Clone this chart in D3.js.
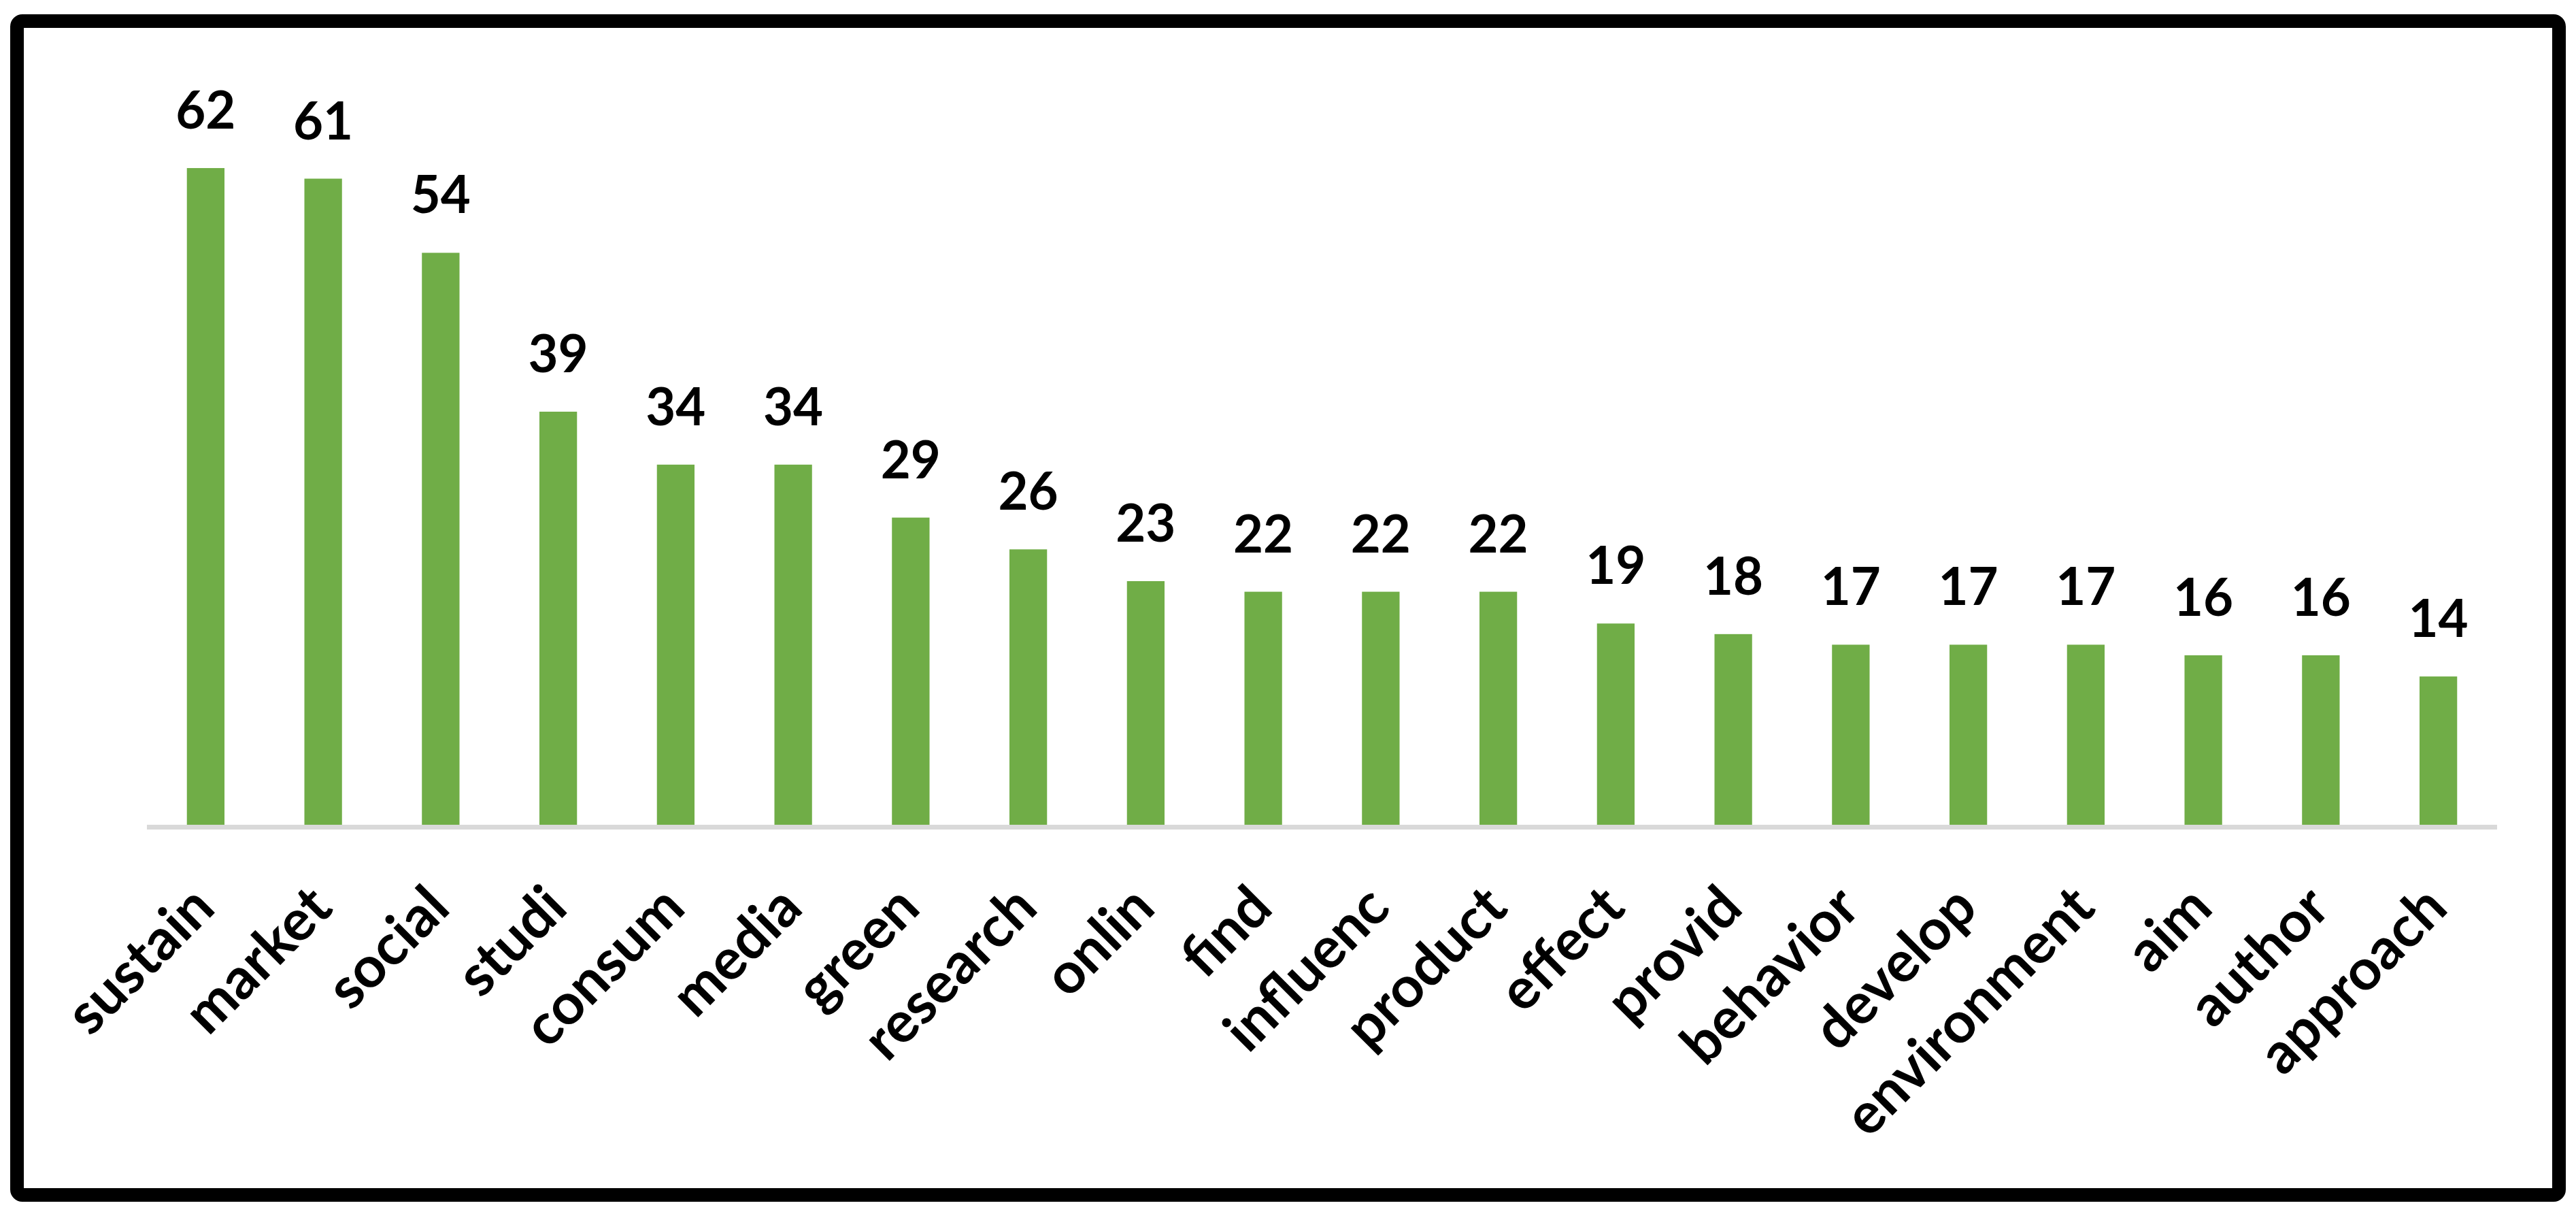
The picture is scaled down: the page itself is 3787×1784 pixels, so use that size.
<!DOCTYPE html>
<html>
<head>
<meta charset="utf-8">
<script src="https://cdn.jsdelivr.net/npm/d3@7"></script>
<style>
  html, body { margin: 0; padding: 0; background: #ffffff; }
  svg { display: block; }
</style>
</head>
<body>
<svg id="chart" width="3787" height="1784"></svg>
<script>
const categories = ["sustain", "market", "social", "studi", "consum", "media", "green", "research", "onlin", "find",
  "influenc", "product", "effect", "provid", "behavior", "develop", "environment", "aim", "author", "approach"];
const values = [62, 61, 54, 39, 34, 34, 29, 26, 23, 22, 22, 22, 19, 18, 17, 17, 17, 16, 16, 14];
const yDomain = [0, 70];

const data = categories.map((c, i) => ({ cat: c, val: values[i] }));

const svg = d3.select("#chart");
const W = 3787, H = 1784;
const FONT = "Lato, 'Open Sans', 'Liberation Sans', sans-serif";

svg.append("rect").attr("x", 0).attr("y", 0).attr("width", W).attr("height", H).attr("fill", "#fff");

const x = d3.scaleBand().domain(categories).range([216, 3671]).paddingInner(0.68).paddingOuter(0.34);
const y = d3.scaleLinear().domain(yDomain).range([1212, 1212 - 70 * 15.565]);

// bars
svg.append("g").selectAll("rect").data(data).join("rect")
  .attr("x", d => x(d.cat))
  .attr("y", d => y(d.val))
  .attr("width", x.bandwidth())
  .attr("height", d => y(0) - y(d.val))
  .attr("fill", "#70ad47");

// baseline
svg.append("line")
  .attr("x1", x.range()[0]).attr("x2", x.range()[1])
  .attr("y1", y(0) + 3.5).attr("y2", y(0) + 3.5)
  .attr("stroke", "#d9d9d9").attr("stroke-width", 7);

// value labels
svg.append("g").selectAll("text").data(data).join("text")
  .attr("x", d => x(d.cat) + x.bandwidth() / 2)
  .attr("y", d => y(d.val) - 58)
  .attr("text-anchor", "middle")
  .attr("font-family", FONT)
  .attr("font-weight", "bold")
  .attr("font-size", 76)
  .attr("fill", "#000")
  .text(d => d.val);

// category labels (rotated)
const xAxis = d3.axisBottom(x).tickSize(0).tickPadding(0);
const gx = svg.append("g").attr("transform", `translate(0, ${y(0)})`).call(xAxis);
gx.select(".domain").remove();
gx.selectAll(".tick text")
  .attr("font-family", FONT)
  .attr("font-weight", "bold")
  .attr("font-size", 84)
  .attr("fill", "#000")
  .attr("text-anchor", "end")
  .attr("dy", 0)
  .attr("transform", "translate(17, 126) rotate(-45)");

// outer border
svg.append("rect")
  .attr("x", 25).attr("y", 31)
  .attr("width", 3737).attr("height", 1725)
  .attr("rx", 8)
  .attr("fill", "none")
  .attr("stroke", "#000")
  .attr("stroke-width", 20);
</script>
</body>
</html>
